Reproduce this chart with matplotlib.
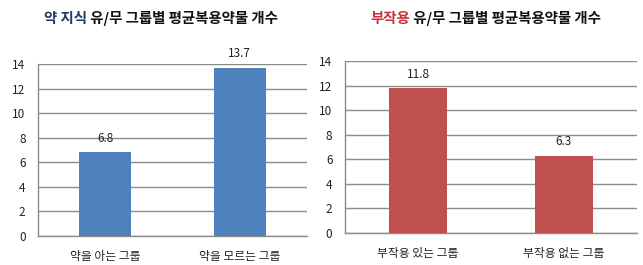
import matplotlib
matplotlib.use("Agg")
import matplotlib.pyplot as plt

plt.rcParams['font.family'] = ['Noto Sans CJK KR', 'DejaVu Sans']

left_categories = ['약을 아는 그룹', '약을 모르는 그룹']
left_values = [6.8, 13.7]
right_categories = ['부작용 있는 그룹', '부작용 없는 그룹']
right_values = [11.8, 6.3]
y_ticks = [0, 2, 4, 6, 8, 10, 12, 14]

left_title_a = '약 지식'
left_title_b = ' 유/무 그룹별 평균복용약물 개수'
right_title_a = '부작용'
right_title_b = ' 유/무 그룹별 평균복용약물 개수'

W, H = 643, 265
fig = plt.figure(figsize=(W / 100, H / 100), dpi=100)

def make_axes(px_left, px_right, px_top, px_bottom):
    return fig.add_axes([px_left / W, 1 - px_bottom / H,
                         (px_right - px_left) / W, (px_bottom - px_top) / H])

ax1 = make_axes(38, 307, 64, 236)
ax2 = make_axes(345, 637, 61, 233)

def style(ax, cats, vals, color, width):
    x = range(len(cats))
    ax.bar(x, vals, width=width, color=color, zorder=3)
    for xi, v in zip(x, vals):
        ax.text(xi, v + 0.6, f'{v}', ha='center', va='bottom', fontsize=8.5,
                color='#222222', zorder=4)
    ax.set_xlim(-0.5, len(cats) - 0.5)
    ax.set_ylim(0, 14)
    ax.set_yticks(y_ticks)
    ax.set_xticks(list(x))
    ax.set_xticklabels(cats, fontsize=8.5)
    ax.tick_params(axis='both', length=0, labelsize=8.5, colors='#222222')
    ax.tick_params(axis='y', pad=9)
    ax.tick_params(axis='x', pad=10)
    ax.grid(axis='y', color='#8c8c8c', linewidth=1.0, zorder=0)
    ax.set_axisbelow(True)
    for s in ['top', 'right']:
        ax.spines[s].set_visible(False)
    ax.spines['left'].set_color('#8c8c8c')
    ax.spines['bottom'].set_color('#8c8c8c')
    ax.spines['left'].set_linewidth(1.0)
    ax.spines['bottom'].set_linewidth(1.0)

style(ax1, left_categories, left_values, '#4F81BD', 0.39)
style(ax2, right_categories, right_values, '#C0504D', 0.40)

def two_color_title(cx_px, cy_px, a, b, ca, cb):
    fig.canvas.draw()
    r = fig.canvas.get_renderer()
    ta = fig.text(0, 1 - cy_px / H, a, color=ca, fontsize=10.4, fontweight='bold', va='center', ha='left')
    tb = fig.text(0, 1 - cy_px / H, b, color=cb, fontsize=10.4, fontweight='bold', va='center', ha='left')
    wa = ta.get_window_extent(r).width
    wb = tb.get_window_extent(r).width
    x0 = cx_px - (wa + wb) / 2
    ta.set_x(x0 / W)
    tb.set_x((x0 + wa) / W)

two_color_title(161, 19, left_title_a, left_title_b, '#1F3864', '#111111')
two_color_title(486, 19, right_title_a, right_title_b, '#C8303A', '#111111')

fig.savefig('out.png', dpi=100, facecolor='white')
